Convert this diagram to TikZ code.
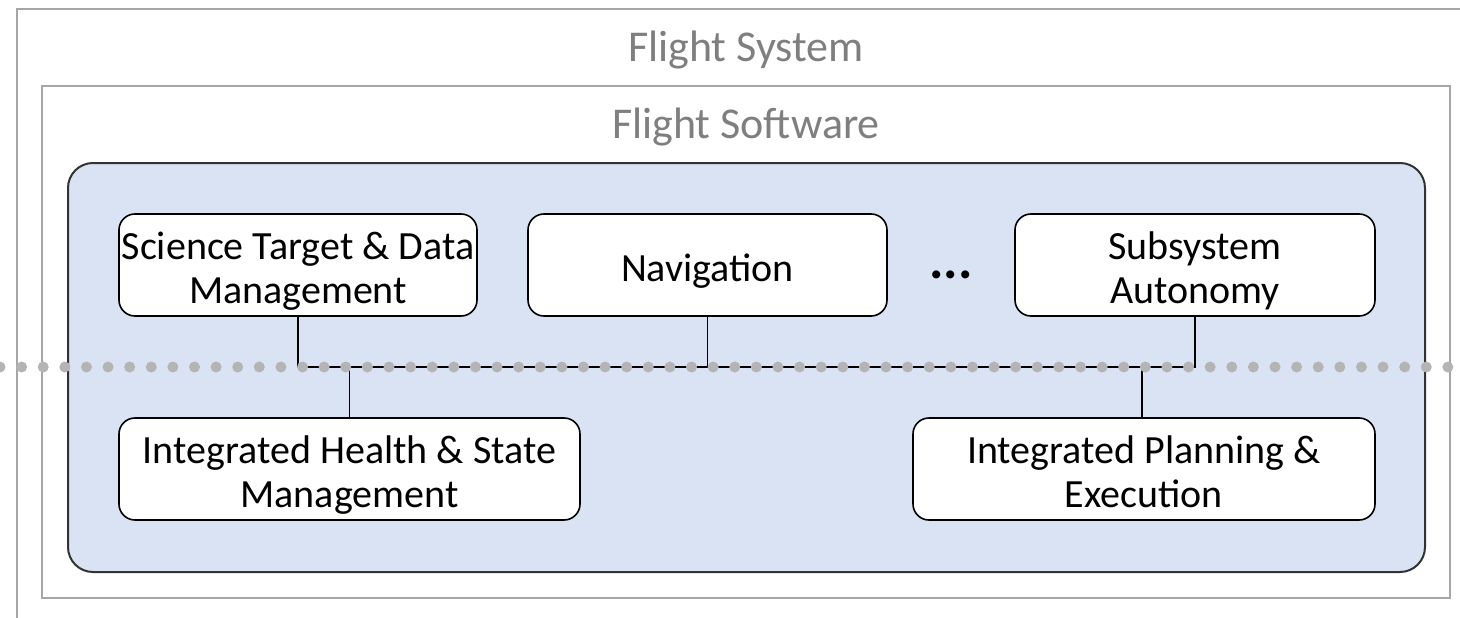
\documentclass[tikz,border=0pt]{standalone}
\usepackage{fontspec}
\setmainfont{Carlito}
\definecolor{framegray}{HTML}{A6A6A6}
\definecolor{titlegray}{HTML}{7F7F7F}
\definecolor{panelblue}{HTML}{DAE3F3}
\definecolor{dotgray}{HTML}{B4B4B4}
\tikzset{
  frame/.style={draw=framegray, line width=2pt},
  panel/.style={draw=black!80, fill=panelblue, line width=2pt, rounded corners=25pt},
  module/.style={draw=black, fill=white, line width=1.6pt, rounded corners=16pt,
    align=center, inner sep=0pt, minimum height=102pt,
    font=\fontsize{40}{44}\selectfont},
  % fixed text boxes (measured from the last baseline) so that the
  % position of the text does not depend on the letters used
  oneline/.style={module, text height=38pt, text depth=6pt},
  twoline/.style={module, text height=82pt, text depth=6pt},
  title/.style={text=titlegray, anchor=base, inner sep=0pt,
    font=\fontsize{44}{52}\selectfont},
  link/.style={draw=black, line width=1.5pt},
  boundary/.style={fill=dotgray}
}
\begin{document}
\begin{tikzpicture}[x=1pt,y=-1pt]
  \useasboundingbox (0,0) rectangle (1460,618);
  \clip (0,0) rectangle (1460,618);
  \fill[white] (0,0) rectangle (1460,618);

  % nested system / software frames
  \draw[frame] (17,9) rectangle (1475,640);
  \draw[frame] (42,86) rectangle (1450,598);
  \node[title] (fsys) at (746,62) {Flight System};
  \node[title] (fsw) at (746,138) {Flight Software};

  % autonomy panel
  \draw[panel] (68,163) rectangle (1425,572);

  % upper row of modules
  \node[twoline, minimum width=358pt] (sci) at (298,265) {Science Target \& Data\\Management};
  \node[oneline, minimum width=359pt] (nav) at (707.5,265) {Navigation};
  \node[twoline, minimum width=360pt] (sub) at (1195,265) {Subsystem\\Autonomy};
  \node[anchor=base, inner sep=0pt, font=\fontsize{54}{60}\selectfont\bfseries] (more) at (951,278) {...};

  % lower row of modules
  \node[twoline, minimum width=461pt] (ihsm) at (349.5,469) {Integrated Health \& State\\Management};
  \node[twoline, minimum width=462pt] (ipe) at (1144,469) {Integrated Planning \&\\Execution};

  % shared bus
  \coordinate (bus) at (298,367);
  \draw[link] (sci.south) -- (sci.south |- bus) -- (sub.south |- bus) -- (sub.south);
  \draw[link] (nav.south) -- (nav.south |- bus);
  \draw[link] (ihsm.north) -- (ihsm.north |- bus);
  \draw[link] (1142,418) -- (1142,367);

  % dotted boundary across the whole figure
  \foreach \k in {0,...,67} {
    \fill[boundary] (21.61*\k,367) circle (5.5pt);
  }
\end{tikzpicture}
\end{document}
